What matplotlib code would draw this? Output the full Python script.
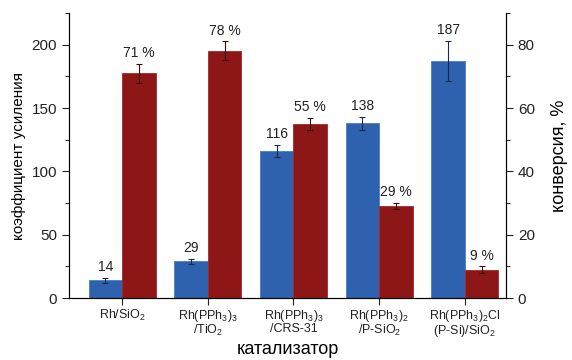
import numpy as np
import matplotlib.pyplot as plt
from matplotlib.ticker import MultipleLocator

plt.rcParams['font.family'] = ['Liberation Sans', 'DejaVu Sans']
plt.rcParams['mathtext.fontset'] = 'custom'
plt.rcParams['mathtext.rm'] = 'Liberation Sans'
plt.rcParams['mathtext.default'] = 'regular'

catalysts = ['Rh/SiO$_2$',
             'Rh(PPh$_3$)$_3$\n/TiO$_2$',
             'Rh(PPh$_3$)$_3$\n/CRS-31',
             'Rh(PPh$_3$)$_2$\n/P-SiO$_2$',
             'Rh(PPh$_3$)$_2$Cl\n(P-Si)/SiO$_2$']
gain = [14, 29, 116, 138, 187]
gain_err = [2, 2, 5, 5, 16]
conversion = [71, 78, 55, 29, 9]
conversion_err = [3, 3, 2, 1, 1]

blue = '#2f62ae'
red = '#8c1716'

fig = plt.figure(figsize=(5.72, 3.6), dpi=100)
ax = fig.add_axes([0.1206, 0.1722, 0.764, 0.7917])
ax2 = ax.twinx()

x = np.arange(len(catalysts))
w = 0.39

ax.bar(x - w / 2, gain, w, color=blue, edgecolor='#4a7cc2', linewidth=0.6,
       yerr=gain_err, error_kw=dict(ecolor='#1a2a45', elinewidth=0.8, capsize=2.5, capthick=0.8))
ax2.bar(x + w / 2, conversion, w, color=red, edgecolor='#a02a28', linewidth=0.6,
        yerr=conversion_err, error_kw=dict(ecolor='#3a0a0a', elinewidth=0.8, capsize=2.5, capthick=0.8))

# value labels sit just above the error bars
for xi, v, e in zip(x, gain, gain_err):
    ax.text(xi - w / 2, v + e + 3, str(v), ha='center', va='bottom', fontsize=10, color='#222222')
for xi, v, e in zip(x, conversion, conversion_err):
    ax2.text(xi + w / 2, v + e + 1.2, f'{v} %', ha='center', va='bottom', fontsize=10, color='#222222')

ax.set_xlim(-0.62, 4.48)
ax.set_ylim(0, 225)
ax2.set_ylim(0, 90)

ax.set_xticks(x)
ax.set_xticklabels(catalysts, fontsize=9, linespacing=0.95)
ax.yaxis.set_major_locator(MultipleLocator(50))
ax.yaxis.set_minor_locator(MultipleLocator(25))
ax2.yaxis.set_major_locator(MultipleLocator(20))
ax2.yaxis.set_minor_locator(MultipleLocator(10))

for a in (ax, ax2):
    a.spines['top'].set_visible(False)
    a.tick_params(axis='both', which='major', labelsize=11, length=5, width=0.8, colors='#222222')
    a.tick_params(axis='y', which='minor', length=3, width=0.6)
ax.tick_params(axis='x', labelsize=9, pad=2)

ax.set_ylabel('коэффициент усиления', fontsize=11, labelpad=4)
ax2.set_ylabel('конверсия, %', fontsize=13, labelpad=12)
ax.set_xlabel('катализатор', fontsize=13, labelpad=1)

fig.savefig('out.png', dpi=100)
